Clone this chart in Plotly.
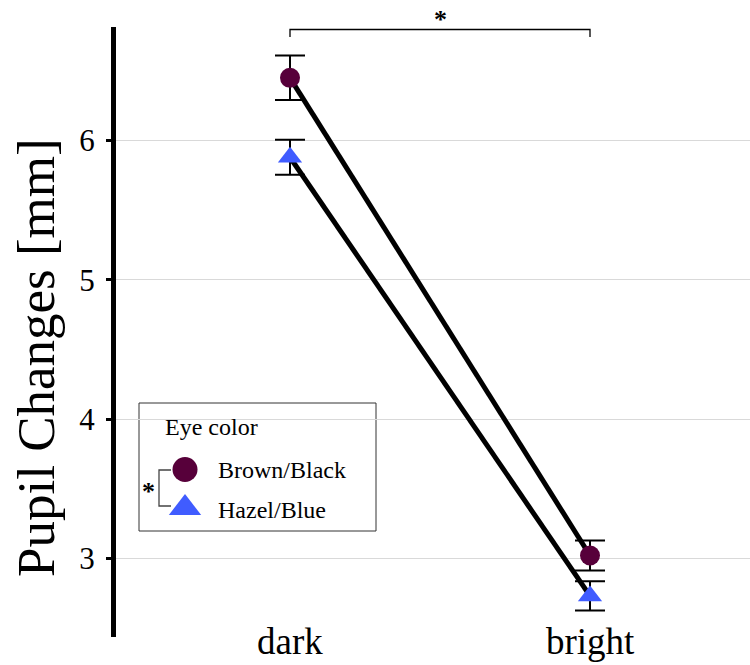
import plotly.graph_objects as go

# Pupil diameter by light condition and eye colour (mean ± SE)
conditions = ["dark", "bright"]
groups = ["Brown/Black", "Hazel/Blue"]
brown_mean = [6.45, 3.02]
brown_err = [0.16, 0.108]
hazel_mean = [5.88, 2.73]
hazel_err = [0.125, 0.105]
y_ticks = [3, 4, 5, 6]

FONT = "Liberation Serif"
BROWN = "#57003a"
BLUE = "#405cff"

W, H = 750, 665
L, R, T, B = 116, 0, 27, 28
PW, PH = W - L - R, H - T - B


def px_x(p):
    """Paper x from a pixel column."""
    return (p - L) / PW


def px_y(p):
    """Paper y from a pixel row."""
    return (H - B - p) / PH


x_pos = list(range(len(conditions)))

fig = go.Figure()

series = [
    (groups[0], brown_mean, brown_err, "circle", BROWN, 20),
    (groups[1], hazel_mean, hazel_err, "triangle-up", BLUE, 21),
]
for name, mean, err, sym, col, size in series:
    fig.add_trace(go.Scatter(
        x=x_pos, y=mean, name=name, mode="lines+markers",
        line=dict(color="black", width=5),
        marker=dict(symbol=sym, size=size, color=col, line=dict(width=0)),
        error_y=dict(type="data", array=err, visible=True,
                     color="black", thickness=2, width=15),
        showlegend=False,
    ))

# Overlay axes in pixel units for the hand-built legend
fig.add_trace(go.Scatter(
    x=[185, 185], y=[469.5, 508], xaxis="x2", yaxis="y2",
    mode="markers", showlegend=False, hoverinfo="skip",
    marker=dict(symbol=["circle", "triangle-up"], size=[25, 28],
                color=[BROWN, BLUE], opacity=1, line=dict(width=0)),
))

shapes = [
    # legend frame
    dict(type="rect", xref="paper", yref="paper",
         x0=px_x(139), x1=px_x(376), y0=px_y(531), y1=px_y(403),
         line=dict(color="#333333", width=1), fillcolor="white", layer="between"),
    # legend significance bracket
    dict(type="path", xref="x2", yref="y2",
         path="M 171,470 L 159,470 L 159,506 L 171,506",
         line=dict(color="#444444", width=1.3)),
    # condition significance bracket
    dict(type="path", xref="x", yref="y2",
         path="M 0,37 L 0,29.5 L 1,29.5 L 1,37",
         line=dict(color="black", width=1.3)),
]


def note(text, x, y, size, xref="paper", xanchor="center", angle=0, bold=False):
    return dict(text=f"<b>{text}</b>" if bold else text,
                xref=xref, yref="paper", x=x, y=px_y(y),
                xanchor=xanchor, yanchor="middle", textangle=angle,
                showarrow=False, font=dict(family=FONT, size=size, color="black"))


annotations = [
    note("Pupil Changes [mm]", px_x(36), 358, 53, angle=-90),
    note("Eye color", px_x(163), 427, 24, xanchor="left"),
    note("*", px_x(148), 491, 26, bold=True),
    note("*", 0.5, 20, 26, xref="x", bold=True),
]
for g, yy in zip(groups, [469.5, 510]):
    annotations.append(note(g, px_x(216), yy, 24, xanchor="left"))
for i, c in enumerate(conditions):
    annotations.append(note(c, i, 641, 37, xref="x"))

fig.update_layout(
    width=W, height=H,
    margin=dict(l=L, r=R, t=T, b=B),
    paper_bgcolor="white", plot_bgcolor="white",
    font=dict(family=FONT, color="black"),
    showlegend=False,
    xaxis=dict(range=[(L - 290) / 300, (W - 290) / 300], showgrid=False,
               zeroline=False, showticklabels=False, ticks="", showline=False),
    yaxis=dict(range=[2.435, 6.815], tickvals=y_ticks, ticktext=[str(v) for v in y_ticks],
               showgrid=True, gridcolor="#d9d9d9", gridwidth=1, zeroline=False,
               showline=True, linecolor="black", linewidth=5,
               ticks="outside", ticklen=5, tickwidth=3, tickcolor="black",
               ticklabelstandoff=5,
               tickfont=dict(family=FONT, size=31, color="black")),
    xaxis2=dict(range=[L, W], overlaying="x", visible=False),
    yaxis2=dict(range=[H - B, T], overlaying="y", visible=False),
    shapes=shapes,
    annotations=annotations,
)

fig.write_html("out.html")
